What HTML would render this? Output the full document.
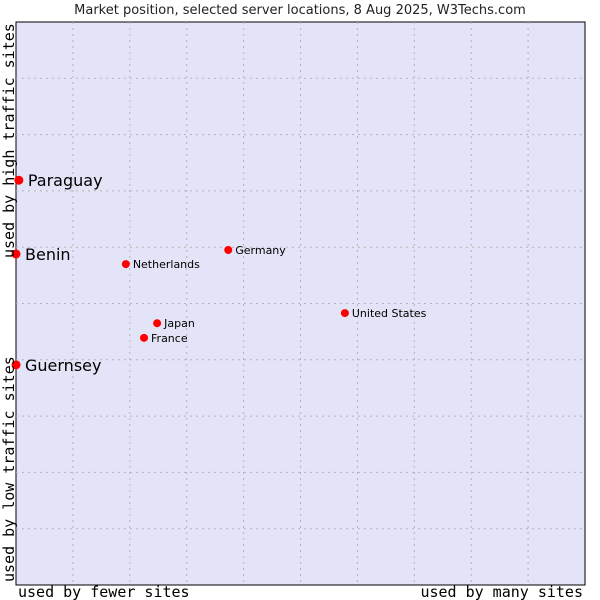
<!DOCTYPE html>
<html><head><meta charset="utf-8"><style>
html,body{margin:0;padding:0;background:#fff;width:600px;height:600px;overflow:hidden}
svg{display:block}
</style></head><body>
<svg id="chart" width="600" height="600" xmlns="http://www.w3.org/2000/svg">
<text x="300" y="14" text-anchor="middle" font-family="DejaVu Sans, sans-serif" font-size="13" fill="#222">Market position, selected server locations, 8 Aug 2025, W3Techs.com</text>
<rect x="16" y="22" width="569" height="563" fill="#e4e4f8" stroke="#000" stroke-width="1"/>
<g id="grid"></g>
<g id="points"></g>
<text x="18" y="597" font-family="DejaVu Sans Mono, monospace" font-size="15" fill="#000">used by fewer sites</text>
<text x="583" y="597" text-anchor="end" font-family="DejaVu Sans Mono, monospace" font-size="15" fill="#000">used by many sites</text>
<text transform="translate(14,582) rotate(-90)" font-family="DejaVu Sans Mono, monospace" font-size="15" fill="#000">used by low traffic sites</text>
<text transform="translate(14,258) rotate(-90)" font-family="DejaVu Sans Mono, monospace" font-size="15" fill="#000">used by high traffic sites</text>
</svg>
<script>
const names = ["Paraguay","Benin","Guernsey","Netherlands","Germany","United States","Japan","France"];
const xValues = [0.5, 0, 0, 19.3, 37.3, 57.8, 24.8, 22.5];
const yValues = [71.9, 58.8, 39.1, 57.0, 59.5, 48.3, 46.5, 43.9];
const bigLabel = [true, true, true, false, false, false, false, false];
const L=16,T=22,W=569,H=563;
function sx(v){return L+v/100*W;}
function sy(v){return T+H-v/100*H;}
const NS="http://www.w3.org/2000/svg";
const grid=document.getElementById('grid');
for(let i=1;i<10;i++){
  const x=L+i*W/10;
  const l=document.createElementNS(NS,'line');
  
  
  l.setAttribute('x1',x);l.setAttribute('x2',x);l.setAttribute('y1',T);l.setAttribute('y2',T+H);
  l.setAttribute('stroke','#b4b4b4');l.setAttribute('stroke-dasharray','2,4');
  grid.appendChild(l);
  const y=T+i*H/10;
  const h=document.createElementNS(NS,'line');
  
  
  h.setAttribute('x1',L);h.setAttribute('x2',L+W);h.setAttribute('y1',y);h.setAttribute('y2',y);
  h.setAttribute('stroke','#b4b4b4');h.setAttribute('stroke-dasharray','2,4');
  grid.appendChild(h);
}
const pts=document.getElementById('points');
names.forEach((n,i)=>{
  const x=sx(xValues[i]),y=sy(yValues[i]);
  const c=document.createElementNS(NS,'circle');
  
  
  c.setAttribute('cx',x);c.setAttribute('cy',y);c.setAttribute('r',bigLabel[i]?4.5:4);c.setAttribute('fill','#ff0000');
  pts.appendChild(c);
  const t=document.createElementNS(NS,'text');
  
  
  t.setAttribute('x',x+(bigLabel[i]?9:7));t.setAttribute('y',y+(bigLabel[i]?6:4));
  t.setAttribute('font-family','DejaVu Sans, sans-serif');
  t.setAttribute('font-size',bigLabel[i]?'16':'11');
  t.setAttribute('fill','#000');
  t.textContent=n;
  pts.appendChild(t);
});
</script>
</body></html>
